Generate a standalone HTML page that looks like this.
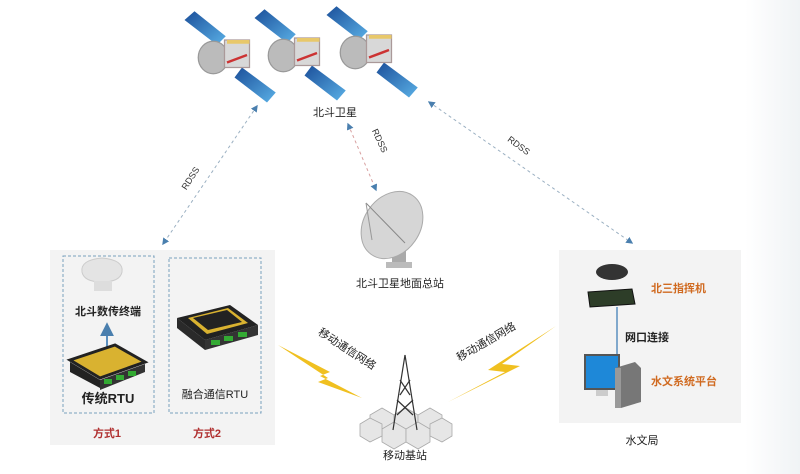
<!DOCTYPE html>
<html><head><meta charset="utf-8"><style>
html,body{margin:0;padding:0;background:#fff;}
svg{display:block;font-family:"Liberation Sans","Noto Sans CJK SC",sans-serif;}
</style></head><body>
<svg width="800" height="474" viewBox="0 0 800 474" xmlns="http://www.w3.org/2000/svg">
<defs>
<linearGradient id="rs" x1="0" x2="1"><stop offset="0" stop-color="#fff"/><stop offset="1" stop-color="#f0f3f5"/></linearGradient>
<linearGradient id="pan" x1="0" y1="0" x2="1" y2="1"><stop offset="0" stop-color="#1b4f9a"/><stop offset="1" stop-color="#5ab0e6"/></linearGradient>
<marker id="ar" viewBox="0 0 10 10" refX="8" refY="5" markerWidth="7" markerHeight="7" orient="auto-start-reverse"><path d="M0,0L10,5L0,10z" fill="#4a7fae"/></marker>
<g id="sat">
<polygon points="-30,-35 -5,-15 -12,-8 -38,-28" fill="url(#pan)"/>
<polygon points="8,10 35,30 28,38 2,18" fill="url(#pan)"/>
<ellipse cx="-15" cy="2" rx="12" ry="13" fill="#bbb" stroke="#999"/>
<rect x="-6" y="-12" width="20" height="22" fill="#d8d8d8" stroke="#a99"/>
<line x1="-4" y1="6" x2="12" y2="0" stroke="#c33" stroke-width="2"/>
<rect x="-4" y="-12" width="18" height="3" fill="#e8c86a"/>
</g>
</defs>
<rect x="745" y="0" width="55" height="474" fill="url(#rs)"/>
<!-- satellites -->
<use href="#sat" transform="translate(232,55) scale(1.25)"/>
<use href="#sat" transform="translate(302,53) scale(1.25)"/>
<use href="#sat" transform="translate(374,50) scale(1.25)"/>
<text x="335" y="116" font-size="11" text-anchor="middle" fill="#222">北斗卫星</text>
<!-- RDSS lines -->
<g stroke="#9bb0c2" stroke-width="1" stroke-dasharray="3,3" fill="none">
<line x1="257" y1="106" x2="163" y2="244" marker-start="url(#ar)" marker-end="url(#ar)"/>
<line x1="348" y1="124" x2="376" y2="190" stroke="#d8a0a0" marker-start="url(#ar)" marker-end="url(#ar)"/>
<line x1="429" y1="102" x2="632" y2="243" marker-start="url(#ar)" marker-end="url(#ar)"/>
</g>
<text font-size="9" fill="#333" transform="translate(193,180) rotate(-57)" text-anchor="middle">RDSS</text>
<text font-size="9" fill="#333" transform="translate(377,142) rotate(65)" text-anchor="middle">RDSS</text>
<text font-size="9" fill="#333" transform="translate(517,148) rotate(36)" text-anchor="middle">RDSS</text>
<!-- dish -->
<g>
<rect x="392" y="248" width="14" height="18" fill="#aaa"/>
<rect x="386" y="262" width="26" height="6" fill="#bbb"/>
<ellipse cx="392" cy="225" rx="28" ry="36" transform="rotate(35 392 225)" fill="#d6d6d6" stroke="#aaa"/>
<line x1="366" y1="203" x2="405" y2="243" stroke="#888"/>
<line x1="366" y1="203" x2="372" y2="240" stroke="#999"/>
</g>
<text x="400" y="287" font-size="11" text-anchor="middle" fill="#222">北斗卫星地面总站</text>
<!-- left panel -->
<rect x="50" y="250" width="225" height="195" fill="#f3f3f3"/>
<rect x="63" y="256" width="91" height="157" fill="none" stroke="#7aa0be" stroke-dasharray="3,2"/>
<rect x="169" y="258" width="92" height="155" fill="none" stroke="#7aa0be" stroke-dasharray="3,2"/>
<path d="M82,272 q-2,-12 20,-14 q22,2 20,14 q-2,10 -20,10 q-18,0 -20,-10z" fill="#e4e4e4" stroke="#ccc"/>
<rect x="94" y="281" width="18" height="10" fill="#ddd"/>
<text x="108" y="315" font-size="11" text-anchor="middle" fill="#222" font-weight="bold">北斗数传终端</text>
<line x1="107" y1="348" x2="107" y2="325" stroke="#5a8fbf" stroke-width="2" marker-end="url(#ar)"/>
<polygon points="70,360 115,345 145,362 100,378" fill="#d9b230" stroke="#222" stroke-width="3"/>
<polygon points="70,362 100,380 100,388 70,372" fill="#222"/>
<polygon points="100,380 145,364 145,372 100,390" fill="#333"/>
<rect x="104" y="379" width="8" height="5" fill="#3a3"/><rect x="116" y="375" width="8" height="5" fill="#3a3"/><rect x="128" y="371" width="8" height="5" fill="#3a3"/>
<text x="108" y="403" font-size="13" text-anchor="middle" fill="#222" font-weight="bold">传统RTU</text>
<polygon points="177,318 230,305 258,325 205,340" fill="#222"/>
<polygon points="188,318 228,308 248,323 207,334" fill="#d9b230"/>
<polygon points="193,318 227,310 242,322 208,330" fill="#222"/>
<polygon points="177,318 205,340 205,350 177,328" fill="#2a2a2a"/>
<polygon points="205,340 258,325 258,335 205,350" fill="#333"/>
<rect x="211" y="340" width="9" height="5" fill="#3a3"/><rect x="224" y="336" width="9" height="5" fill="#3a3"/><rect x="238" y="332" width="9" height="5" fill="#3a3"/>
<text x="215" y="398" font-size="11" text-anchor="middle" fill="#222">融合通信RTU</text>
<text x="107" y="437" font-size="11" text-anchor="middle" fill="#b03030" font-weight="bold">方式1</text>
<text x="207" y="437" font-size="11" text-anchor="middle" fill="#b03030" font-weight="bold">方式2</text>
<!-- lightning -->
<polygon points="278,345 330,372 320,376 362,398 318,382 328,378" fill="#f0c020"/>
<polygon points="556,326 502,364 520,366 448,402 505,372 488,370" fill="#f0c020"/>
<text font-size="11" fill="#222" transform="translate(345,352) rotate(33)" text-anchor="middle">移动通信网络</text>
<text font-size="11" fill="#222" transform="translate(488,345) rotate(-30)" text-anchor="middle">移动通信网络</text>
<!-- tower -->
<g fill="#e6e6e6" stroke="#aaa" stroke-width="0.8">
<polygon points="370,415 382,408 394,415 394,428 382,435 370,428"/>
<polygon points="394,415 406,408 418,415 418,428 406,435 394,428"/>
<polygon points="418,415 430,408 442,415 442,428 430,435 418,428"/>
<polygon points="382,429 394,422 406,429 406,442 394,449 382,442"/>
<polygon points="406,429 418,422 430,429 430,442 418,449 406,442"/>
<polygon points="360,424 370,418 382,424 382,436 370,442 360,436"/>
<polygon points="430,424 442,418 452,424 452,436 442,442 430,436"/>
</g>
<g stroke="#333" stroke-width="1.2" fill="none">
<line x1="405" y1="355" x2="393" y2="430"/><line x1="405" y1="355" x2="417" y2="430"/>
<line x1="400" y1="380" x2="410" y2="395"/><line x1="410" y1="380" x2="400" y2="395"/>
<line x1="397" y1="400" x2="413" y2="415"/><line x1="413" y1="400" x2="397" y2="415"/>
</g>
<text x="405" y="459" font-size="11" text-anchor="middle" fill="#222">移动基站</text>
<!-- right panel -->
<rect x="559" y="250" width="182" height="173" fill="#f3f3f3"/>
<ellipse cx="612" cy="272" rx="16" ry="8" fill="#333"/>
<polygon points="588,292 632,289 635,304 590,307" fill="#2d3d28" stroke="#111"/>
<text x="651" y="292" font-size="11" fill="#d06a20" font-weight="bold">北三指挥机</text>
<line x1="617" y1="307" x2="617" y2="360" stroke="#5a8fbf" stroke-width="1.5"/>
<text x="625" y="341" font-size="11" fill="#222" font-weight="bold">网口连接</text>
<rect x="585" y="355" width="34" height="34" fill="#1e88d8" stroke="#555" stroke-width="2"/>
<rect x="596" y="390" width="12" height="6" fill="#ccc"/>
<polygon points="615,368 635,362 641,368 641,402 621,408 615,402" fill="#777"/>
<rect x="615" y="368" width="6" height="40" fill="#999"/>
<text x="651" y="385" font-size="11" fill="#d06a20" font-weight="bold">水文系统平台</text>
<text x="642" y="444" font-size="11" text-anchor="middle" fill="#222">水文局</text>
</svg>
</body></html>
